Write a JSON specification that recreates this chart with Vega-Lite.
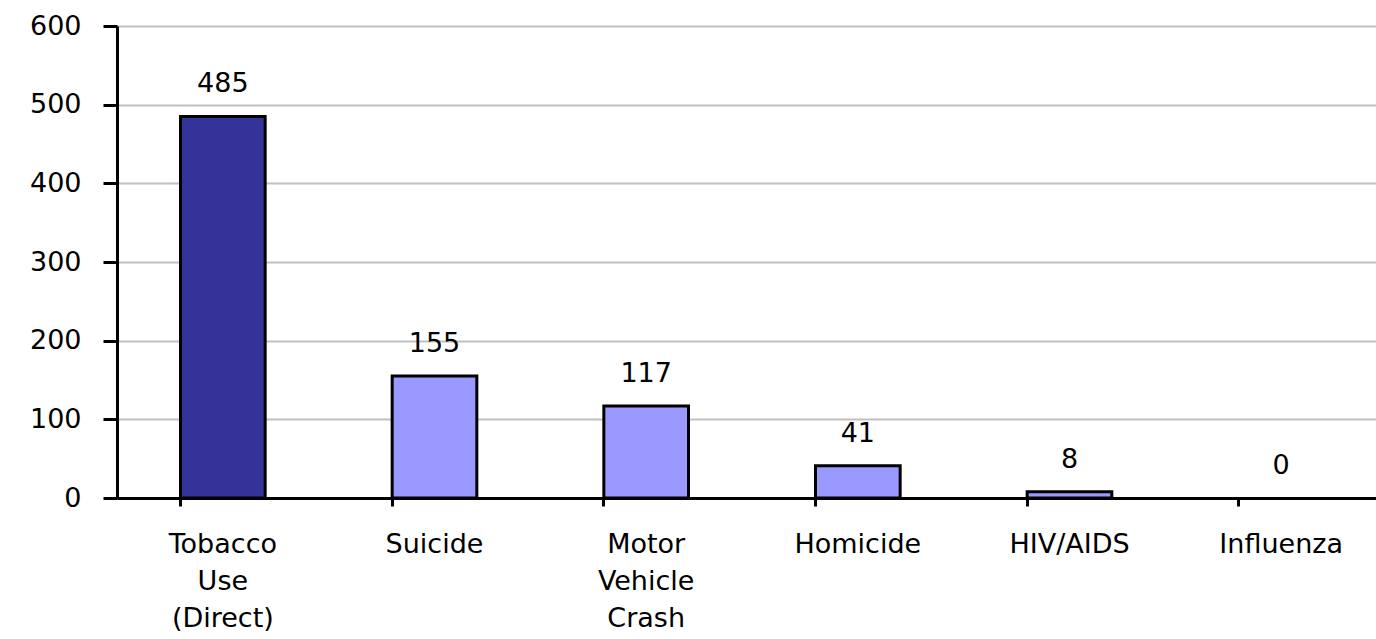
{
  "$schema": "https://vega.github.io/schema/vega-lite/v6.json",
  "width": 1270,
  "height": 472,
  "autosize": {"type": "none"},
  "padding": {"left": 117, "top": 26, "right": 0, "bottom": 141},
  "background": "white",
  "config": {"view": {"stroke": null}, "font": "DejaVu Sans"},
  "data": {"values": [
    {"cause": "Tobacco|Use|(Direct)", "deaths": 485, "grp": "a"},
    {"cause": "Suicide", "deaths": 155, "grp": "b"},
    {"cause": "Motor|Vehicle|Crash", "deaths": 117, "grp": "b"},
    {"cause": "Homicide", "deaths": 41, "grp": "b"},
    {"cause": "HIV/AIDS", "deaths": 8, "grp": "b"},
    {"cause": "Influenza", "deaths": 0, "grp": "b"}
  ]},
  "encoding": {
    "x": {"field": "cause", "type": "nominal", "sort": null,
      "scale": {"paddingInner": 0.6, "paddingOuter": 0.3},
      "axis": {"title": null, "labelAngle": 0, "labelExpr": "split(datum.value, '|')",
        "labelFont": "DejaVu Sans", "labelFontSize": 27, "labelColor": "black", "labelLineHeight": 37,
        "labelPadding": 25, "domainColor": "black", "domainWidth": 3, "tickColor": "black", "tickWidth": 3,
        "tickSize": 8, "bandPosition": 0, "labelBaseline": "top"}},
    "y": {"field": "deaths", "type": "quantitative",
      "scale": {"domain": [0, 600], "nice": false},
      "axis": {"title": null, "values": [0, 100, 200, 300, 400, 500, 600], "labelFont": "DejaVu Sans",
        "labelFontSize": 27, "labelColor": "black", "labelPadding": 22, "domainColor": "black", "domainWidth": 3,
        "tickColor": "black", "tickWidth": 3, "tickSize": 14, "gridColor": "#c0c0c0", "gridWidth": 2}}
  },
  "layer": [
    {"mark": {"type": "bar", "stroke": "black", "strokeWidth": 3},
      "transform": [{"filter": "datum.deaths > 0"}],
      "encoding": {"color": {"field": "grp", "type": "nominal", "legend": null,
        "scale": {"domain": ["a", "b"], "range": ["#333399", "#9999ff"]}}}},
    {"mark": {"type": "text", "baseline": "bottom", "dy": -18, "fontSize": 27, "font": "DejaVu Sans", "color": "black"},
      "encoding": {"text": {"field": "deaths", "type": "quantitative"}}}
  ]
}
